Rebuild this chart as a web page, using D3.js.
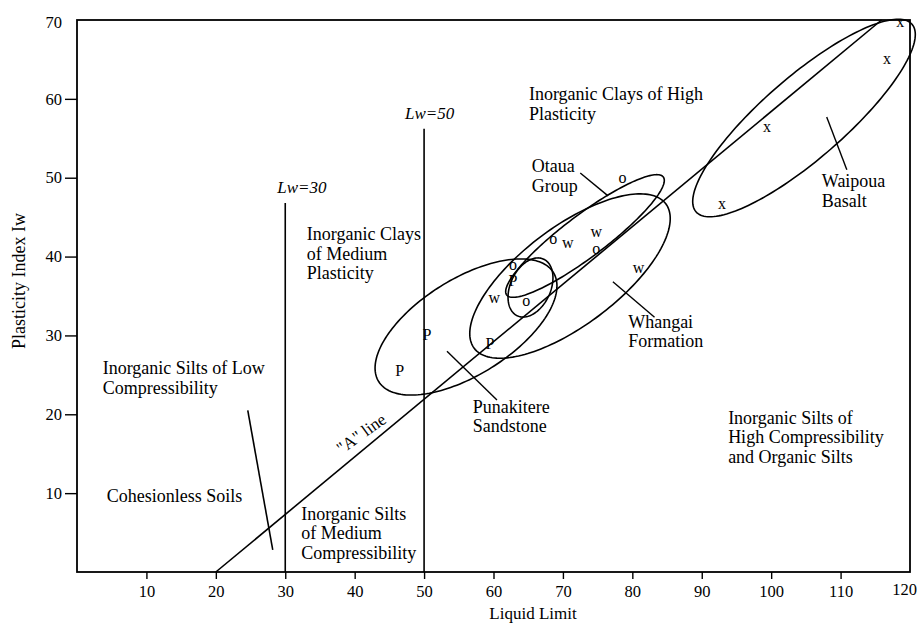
<!DOCTYPE html>
<html>
<head>
<meta charset="utf-8">
<script src="https://cdn.jsdelivr.net/npm/d3@7"></script>
<style>
  html, body { margin: 0; padding: 0; background: #fff; }
  svg { display: block; }
  text { font-family: "Liberation Serif", "Times New Roman", serif; fill: #000; }
</style>
</head>
<body>
<svg id="chart" width="920" height="624"></svg>
<script>
// ---- Axis ticks ----
const xTicks = [10, 20, 30, 40, 50, 60, 70, 80, 90, 100, 110, 120];
const yTicks = [10, 20, 30, 40, 50, 60, 70];

// ---- Test results: [Liquid Limit, Plasticity Index] ----
const punakitere = [[46.5, 25.6], [50.4, 30.1], [59.5, 29.0], [62.8, 36.9]];
const otaua      = [[78.6, 49.8], [68.6, 42.1], [74.8, 40.8], [64.7, 34.2], [62.8, 38.8]];
const whangai    = [[70.7, 41.5], [74.8, 42.9], [80.9, 38.3], [60.1, 34.6]];
const waipoua    = [[118.6, 69.5], [116.7, 64.9], [99.4, 56.3], [92.9, 46.5]];

// ---- Group envelopes: centre and two conjugate semi-axes, in chart units ----
const envelopeCentres = [[56.04, 31.07], [65.33, 36.08], [73.18, 42.61], [71.02, 37.53], [104.73, 57.57]];
const envelopeAxisA   = [[12.58, 6.92], [1.90, 3.59], [11.28, 7.48], [13.80, 9.16], [15.56, 11.89]];
const envelopeAxisB   = [[3.66, -5.16], [2.62, -1.08], [1.82, -2.13], [4.25, -4.97], [3.87, -3.93]];

// ---- Chart boundaries ----
const aLine        = [[20, 0], [115.9, 70]];         // PI = 0.73 (LL - 20)
const lw30         = [[30, 0], [30, 46.8]];
const lw50         = [[50, 0], [50, 56.2]];
const cohesionless = [[24.6, 20.5], [28.2, 2.8]];

// ---- Leader lines from group names to envelopes ----
const leaders = [
  [[53.3, 28.0], [60.5, 21.8]],   // Punakitere
  [[72.5, 50.6], [76.5, 47.7]],   // Otaua
  [[77.2, 36.8], [83.2, 32.3]],   // Whangai
  [[108.0, 57.7], [110.9, 51.0]]  // Waipoua
];

// ---- Zone and group names: [LL, PI] of first baseline, lines ----
const zoneLabels = [
  { at: [65.1, 59.8], lines: ["Inorganic Clays of High", "Plasticity"] },
  { at: [33.1, 42.1], lines: ["Inorganic Clays", "of Medium", "Plasticity"] },
  { at: [3.7, 25.1],  lines: ["Inorganic Silts of Low", "Compressibility"] },
  { at: [4.3, 8.9],   lines: ["Cohesionless Soils"] },
  { at: [32.3, 6.6],  lines: ["Inorganic Silts", "of Medium", "Compressibility"] },
  { at: [57.0, 20.2], lines: ["Punakitere", "Sandstone"] },
  { at: [65.5, 50.7], lines: ["Otaua", "Group"] },
  { at: [79.4, 31.0], lines: ["Whangai", "Formation"] },
  { at: [107.3, 48.8], lines: ["Waipoua", "Basalt"] },
  { at: [93.8, 18.8], lines: ["Inorganic Silts of", "High Compressibility", "and Organic Silts"] }
];

const W = 920, H = 624;
const svg = d3.select("#chart");
svg.append("rect").attr("width", W).attr("height", H).attr("fill", "#fff");

const x = d3.scaleLinear().domain([0, 120]).range([77, 910]);
const y = d3.scaleLinear().domain([0, 70]).range([572, 20]);

const line = d3.line().x(d => x(d[0])).y(d => y(d[1]));

// Plot frame
svg.append("rect")
  .attr("x", x(0)).attr("y", y(70))
  .attr("width", x(120) - x(0)).attr("height", y(0) - y(70))
  .attr("fill", "none").attr("stroke", "#000").attr("stroke-width", 1.8);

// Axes
const gx = svg.append("g")
  .attr("transform", `translate(0,${y(0)})`)
  .call(d3.axisBottom(x).tickValues(xTicks).tickSize(7).tickPadding(6).tickFormat(d3.format("d")));
gx.select(".domain").remove();
const lastX = gx.selectAll(".tick").filter(d => d === 120);
lastX.select("line").remove();
lastX.select("text").attr("dx", -6).attr("y", 11);
gx.attr("font-size", 16.5);
gx.selectAll(".tick line").attr("stroke", "#000").attr("stroke-width", 1.4);

const gy = svg.append("g")
  .attr("transform", `translate(${x(0)},0)`)
  .call(d3.axisLeft(y).tickValues(yTicks).tickSize(12).tickPadding(3).tickFormat(d3.format("d")));
gy.select(".domain").remove();
const topY = gy.selectAll(".tick").filter(d => d === 70);
topY.select("line").remove();
topY.select("text").attr("dy", "0.45em");
gy.attr("font-size", 16.5);
gy.selectAll(".tick line").attr("stroke", "#000").attr("stroke-width", 1.4);

// Axis titles
svg.append("text")
  .attr("x", 533).attr("y", 619)
  .attr("text-anchor", "middle").attr("font-size", 17)
  .text("Liquid Limit");
svg.append("text")
  .attr("transform", "translate(25,281) rotate(-90)")
  .attr("text-anchor", "middle").attr("font-size", 18)
  .text("Plasticity Index Iw");

// Boundary lines
const strokeLines = [aLine, lw30, lw50, cohesionless];
svg.append("g").selectAll("path").data(strokeLines).join("path")
  .attr("d", line).attr("fill", "none").attr("stroke", "#000").attr("stroke-width", 1.6);

// Lw labels
svg.append("text").attr("x", x(32.4)).attr("y", y(48.1))
  .attr("text-anchor", "middle").attr("font-size", 17).attr("font-style", "italic")
  .text("Lw=30");
svg.append("text").attr("x", x(50.8)).attr("y", y(57.4))
  .attr("text-anchor", "middle").attr("font-size", 17).attr("font-style", "italic")
  .text("Lw=50");

// "A" line label, laid along the line
{
  const p0 = [x(aLine[0][0]), y(aLine[0][1])], p1 = [x(aLine[1][0]), y(aLine[1][1])];
  const ang = Math.atan2(p1[1] - p0[1], p1[0] - p0[0]) * 180 / Math.PI + 4;
  const ll = 42.1, pi = 0.73 * (ll - 20);
  svg.append("text")
    .attr("transform", `translate(${x(ll)},${y(pi)}) rotate(${ang})`)
    .attr("y", -8).attr("text-anchor", "middle").attr("font-size", 17)
    .text('"A" line');
}

// Envelopes
const envPts = envelopeCentres.map((c, i) => {
  const A = envelopeAxisA[i], B = envelopeAxisB[i];
  return d3.range(0, 2 * Math.PI, Math.PI / 90).map(t => [
    c[0] + Math.cos(t) * A[0] + Math.sin(t) * B[0],
    c[1] + Math.cos(t) * A[1] + Math.sin(t) * B[1]
  ]);
});
svg.append("g").selectAll("path").data(envPts).join("path")
  .attr("d", d3.line().x(d => x(d[0])).y(d => y(d[1])).curve(d3.curveLinearClosed))
  .attr("fill", "none").attr("stroke", "#000").attr("stroke-width", 1.6);

// Leader lines
svg.append("g").selectAll("path").data(leaders).join("path")
  .attr("d", line).attr("fill", "none").attr("stroke", "#000").attr("stroke-width", 1.4);

// Data markers drawn as letters
const markerSets = [
  { pts: punakitere, sym: "P", dy: "0.34em" },
  { pts: otaua,      sym: "o", dy: "0.22em" },
  { pts: whangai,    sym: "w", dy: "0.22em" },
  { pts: waipoua,    sym: "x", dy: "0.22em" }
];
markerSets.forEach(s => {
  svg.append("g").selectAll("text").data(s.pts).join("text")
    .attr("x", d => x(d[0])).attr("y", d => y(d[1]))
    .attr("dy", s.dy).attr("text-anchor", "middle").attr("font-size", 16)
    .text(s.sym);
});

// Zone and group names
const lab = svg.append("g").attr("font-size", 18);
zoneLabels.forEach(l => {
  const t = lab.append("text").attr("x", x(l.at[0])).attr("y", y(l.at[1]));
  l.lines.forEach((s, i) => {
    t.append("tspan").attr("x", x(l.at[0])).attr("dy", i === 0 ? 0 : 19.5).text(s);
  });
});
</script>
</body>
</html>
